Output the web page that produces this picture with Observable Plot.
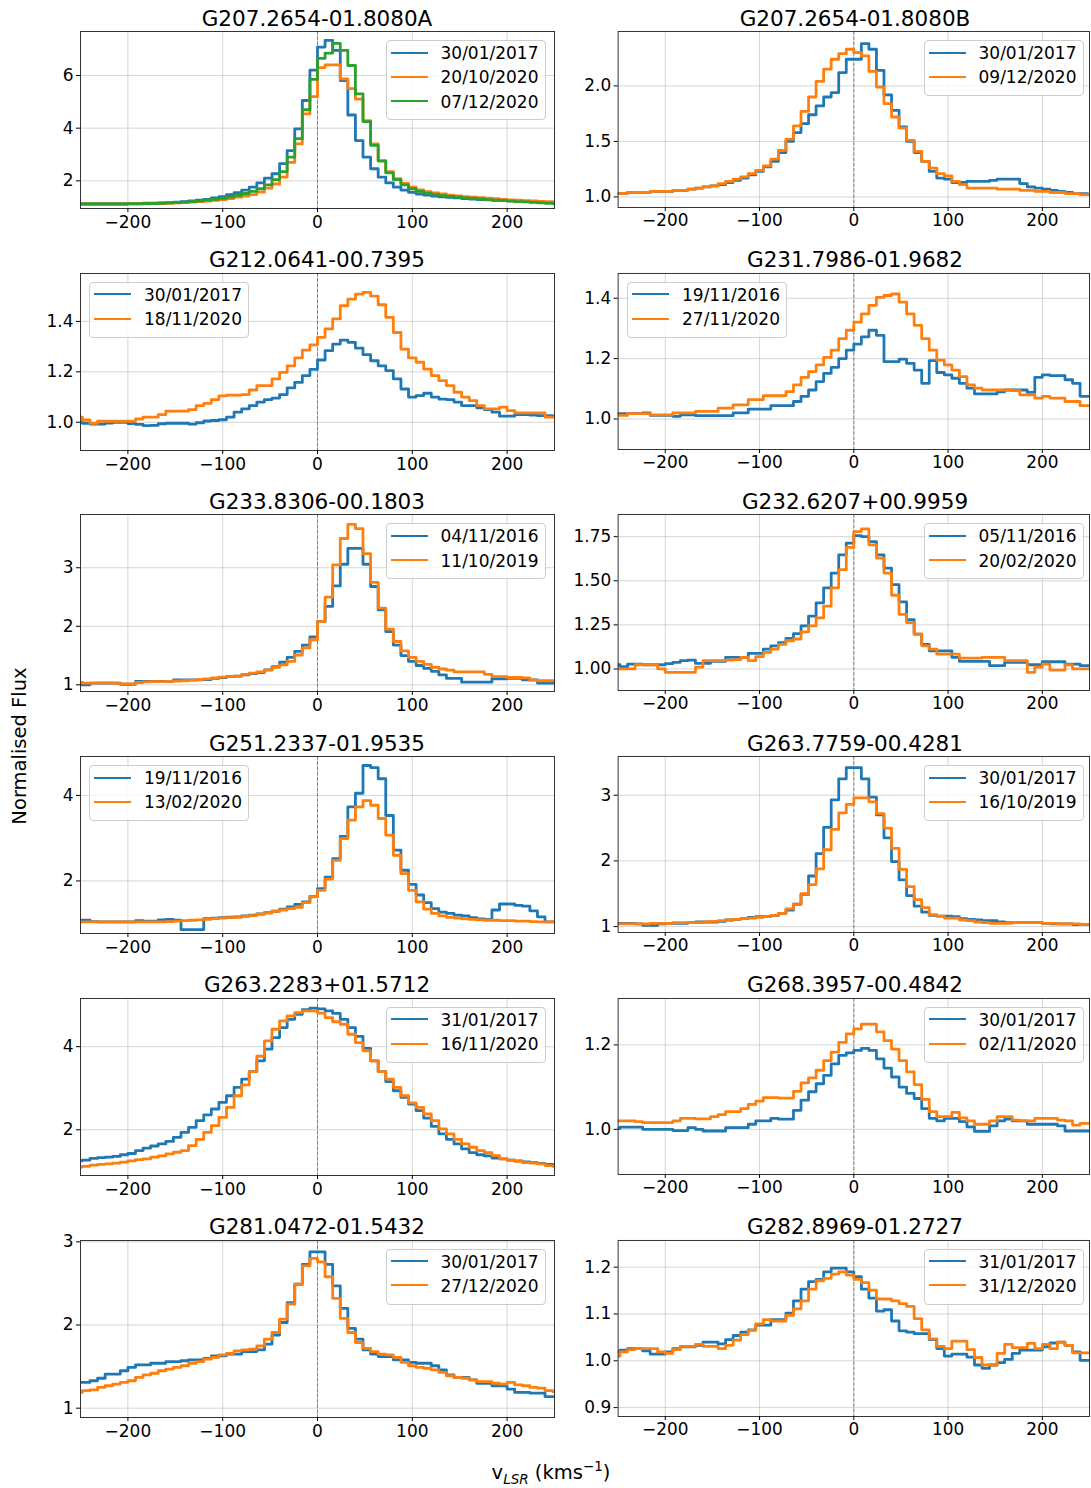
<!DOCTYPE html>
<html><head><meta charset="utf-8">
<script src="https://cdn.jsdelivr.net/npm/d3@7"></script>
<script src="https://cdn.jsdelivr.net/npm/@observablehq/plot@0.6"></script>
<style>
body{margin:0;background:#fff;}
#page{position:relative;width:1091px;height:1488px;overflow:hidden;background:#fff;font-family:"DejaVu Sans",sans-serif;color:#000;}
.title{position:absolute;width:474px;text-align:center;font-size:21.5px;line-height:24px;white-space:nowrap;}
.legend{position:absolute;width:160px;background:rgba(255,255,255,0.8);border:1px solid #cccccc;border-radius:4px;box-sizing:border-box;}
.lgline{position:absolute;height:0;border-top-style:solid;border-top-width:2.8px;width:37px;}
.lgtext{position:absolute;font-size:17px;line-height:20px;white-space:nowrap;}
.panel{position:absolute;}
.axlabel{position:absolute;font-size:19.5px;white-space:nowrap;text-align:center;}
</style></head>
<body><div id="page"></div>
<script>
// velocity bin centres (km/s)
const vel = [-252,-244,-236,-228,-220,-212,-204,-196,-188,-180,-172,-164,-156,-148,-140,-132,
-124,-116,-108,-100,-92,-84,-76,-68,-60,-52,-44,-36,-28,-20,-12,-4,
4,12,20,28,36,44,52,60,68,76,84,92,100,108,116,124,
132,140,148,156,164,172,180,188,196,204,212,220,228,236,244,252];
const xTicks = [-200,-100,0,100,200];

const titles = ["G207.2654-01.8080A","G207.2654-01.8080B","G212.0641-00.7395","G231.7986-01.9682",
"G233.8306-00.1803","G232.6207+00.9959","G251.2337-01.9535","G263.7759-00.4281",
"G263.2283+01.5712","G268.3957-00.4842","G281.0472-01.5432","G282.8969-01.2727"];

const dates = [["30/01/2017","20/10/2020","07/12/2020"],["30/01/2017","09/12/2020"],["30/01/2017","18/11/2020"],
["19/11/2016","27/11/2020"],["04/11/2016","11/10/2019"],["05/11/2016","20/02/2020"],["19/11/2016","13/02/2020"],
["30/01/2017","16/10/2019"],["31/01/2017","16/11/2020"],["30/01/2017","02/11/2020"],["30/01/2017","27/12/2020"],
["31/01/2017","31/12/2020"]];

const yTickValues = [[2,4,6],[1.0,1.5,2.0],[1.0,1.2,1.4],[1.0,1.2,1.4],[1,2,3],[1.0,1.25,1.5,1.75],[2,4],[1,2,3],[2,4],[1.0,1.2],[1,2,3],[0.9,1.0,1.1,1.2]];
const yTickLabels = [["2","4","6"],["1.0","1.5","2.0"],["1.0","1.2","1.4"],["1.0","1.2","1.4"],["1","2","3"],["1.00","1.25","1.50","1.75"],["2","4"],["1","2","3"],["2","4"],["1.0","1.2"],["1","2","3"],["0.9","1.0","1.1","1.2"]];

// ---- flux series ----
const p1a=[1.13,1.13,1.13,1.13,1.13,1.13,1.13,1.14, 1.14,1.15,1.15,1.16,1.17,1.19,1.21,1.24, 1.27,1.30,1.35,1.40,1.48,1.55,1.65,1.76, 1.92,2.10,2.27,2.65,3.15,3.97,5.05,6.20, 7.08,7.33,6.95,5.81,4.50,3.53,2.90,2.46, 2.14,1.92,1.76,1.65,1.56,1.50,1.46,1.42, 1.39,1.37,1.35,1.33,1.31,1.29,1.28,1.26, 1.25,1.24,1.22,1.21,1.20,1.18,1.17,1.16];
const p1b=[1.12,1.12,1.12,1.12,1.12,1.12,1.12,1.13, 1.13,1.13,1.14,1.14,1.15,1.16,1.17,1.19, 1.21,1.23,1.26,1.29,1.33,1.38,1.42,1.48, 1.57,1.72,1.88,2.14,2.70,3.40,4.54,5.20, 6.30,6.40,6.40,5.87,5.50,5.10,4.29,3.40, 2.77,2.35,2.08,1.90,1.76,1.66,1.59,1.54, 1.50,1.46,1.43,1.40,1.38,1.36,1.34,1.32, 1.30,1.28,1.27,1.25,1.24,1.22,1.21,1.20];
const p1c=[1.12,1.12,1.12,1.12,1.12,1.12,1.12,1.13, 1.13,1.14,1.14,1.15,1.16,1.17,1.19,1.21, 1.24,1.27,1.30,1.34,1.39,1.45,1.52,1.60, 1.70,1.85,2.05,2.35,2.90,3.60,4.70,5.85, 6.65,6.85,7.22,6.95,6.38,5.30,4.25,3.35, 2.75,2.30,2.05,1.85,1.70,1.60,1.53,1.48, 1.44,1.41,1.38,1.35,1.33,1.31,1.29,1.27, 1.25,1.23,1.21,1.20,1.18,1.16,1.15,1.14];

const p2a=[1.03,1.03,1.04,1.04,1.04,1.05,1.05,1.05, 1.06,1.06,1.07,1.08,1.09,1.10,1.11,1.13, 1.15,1.17,1.20,1.23,1.27,1.32,1.40,1.50, 1.58,1.66,1.74,1.82,1.90,1.94,2.12,2.24, 2.24,2.38,2.33,2.14,1.92,1.78,1.63,1.50, 1.40,1.32,1.23,1.17,1.16,1.13,1.13,1.14, 1.14,1.14,1.15,1.16,1.16,1.16,1.12,1.09, 1.08,1.07,1.06,1.05,1.04,1.03,1.03,1.02];
const p2b=[1.03,1.03,1.04,1.04,1.04,1.05,1.05,1.05, 1.06,1.06,1.07,1.08,1.09,1.10,1.12,1.14, 1.16,1.18,1.21,1.24,1.28,1.34,1.42,1.52, 1.64,1.77,1.90,2.04,2.15,2.24,2.29,2.33, 2.30,2.27,2.13,1.99,1.84,1.72,1.62,1.51, 1.41,1.32,1.26,1.21,1.19,1.14,1.11,1.08, 1.08,1.08,1.08,1.07,1.07,1.07,1.06,1.06, 1.05,1.05,1.04,1.04,1.03,1.03,1.02,1.02];

const p3a=[1.000,0.996,0.993,0.993,0.997,1.000,1.000,0.995, 0.992,0.987,0.988,0.994,0.996,0.996,0.996,0.993, 0.998,1.005,1.007,1.010,1.020,1.040,1.053,1.066, 1.080,1.090,1.096,1.110,1.136,1.158,1.185,1.210, 1.247,1.284,1.310,1.326,1.317,1.294,1.268,1.244, 1.224,1.205,1.172,1.132,1.100,1.106,1.115,1.100, 1.092,1.090,1.080,1.066,1.066,1.057,1.050,1.040, 1.024,1.024,1.030,1.030,1.028,1.026,1.026,1.022];
const p3b=[1.020,1.009,0.996,1.004,1.004,1.004,1.004,1.004, 1.013,1.020,1.020,1.030,1.044,1.044,1.044,1.050, 1.066,1.075,1.090,1.105,1.108,1.108,1.110,1.128, 1.145,1.145,1.172,1.198,1.224,1.255,1.286,1.307, 1.337,1.370,1.410,1.462,1.488,1.508,1.515,1.500, 1.466,1.416,1.356,1.290,1.255,1.238,1.211,1.185, 1.165,1.145,1.119,1.100,1.086,1.066,1.053,1.053, 1.060,1.046,1.037,1.037,1.037,1.037,1.020,1.020];

const p4a=[1.018,1.018,1.018,1.018,1.020,1.012,1.012,1.012, 1.009,1.014,1.014,1.011,1.011,1.011,1.011,1.011, 1.020,1.020,1.033,1.033,1.033,1.044,1.044,1.044, 1.058,1.075,1.096,1.124,1.151,1.171,1.200,1.228, 1.248,1.272,1.294,1.277,1.190,1.190,1.198,1.184, 1.162,1.118,1.193,1.154,1.146,1.135,1.118,1.102, 1.083,1.083,1.083,1.090,1.096,1.096,1.096,1.088, 1.138,1.146,1.144,1.144,1.130,1.118,1.075,1.075];
const p4b=[1.012,1.012,1.018,1.018,1.018,1.014,1.014,1.014, 1.020,1.020,1.020,1.025,1.025,1.025,1.036,1.036, 1.047,1.047,1.064,1.064,1.077,1.077,1.077,1.091, 1.113,1.138,1.157,1.179,1.204,1.228,1.266,1.294, 1.321,1.348,1.376,1.403,1.409,1.414,1.387,1.348, 1.310,1.266,1.228,1.195,1.179,1.162,1.140,1.113, 1.102,1.096,1.096,1.096,1.096,1.094,1.080,1.080, 1.069,1.075,1.069,1.069,1.058,1.058,1.044,1.044];

const p5a=[1.00,1.00,1.03,1.03,1.03,1.03,1.01,1.01, 1.057,1.057,1.057,1.057,1.06,1.085,1.085,1.085, 1.085,1.09,1.11,1.125,1.14,1.15,1.17,1.19, 1.21,1.255,1.31,1.386,1.47,1.57,1.68,1.82, 2.08,2.34,2.69,3.06,3.33,3.33,3.06,2.68, 2.28,1.91,1.68,1.50,1.40,1.33,1.28,1.23, 1.17,1.11,1.11,1.045,1.045,1.045,1.045,1.10, 1.10,1.11,1.11,1.085,1.085,1.03,1.03,1.03];
const p5b=[1.04,1.03,1.03,1.035,1.035,1.03,1.015,1.015, 1.04,1.05,1.055,1.055,1.06,1.065,1.07,1.08, 1.09,1.10,1.12,1.13,1.14,1.15,1.18,1.20, 1.22,1.25,1.30,1.34,1.40,1.51,1.63,1.77, 2.08,2.50,3.05,3.50,3.74,3.67,3.24,2.75, 2.31,1.95,1.74,1.58,1.47,1.40,1.35,1.30, 1.27,1.25,1.22,1.22,1.22,1.22,1.18,1.14, 1.14,1.125,1.125,1.12,1.08,1.07,1.07,1.07];

const p6a=[1.024,1.013,1.028,1.028,1.024,1.024,1.024,1.030, 1.038,1.047,1.050,1.032,1.032,1.043,1.043,1.066, 1.066,1.066,1.088,1.088,1.113,1.131,1.150,1.174, 1.200,1.244,1.300,1.375,1.460,1.544,1.647,1.713, 1.756,1.750,1.722,1.647,1.572,1.478,1.380,1.280, 1.197,1.140,1.103,1.103,1.103,1.066,1.043,1.043, 1.043,1.043,1.019,1.019,1.038,1.038,1.038,1.024, 1.024,1.041,1.041,1.041,1.028,1.028,1.019,1.019];
const p6b=[1.000,1.000,1.000,1.024,1.024,1.024,1.000,0.981, 0.981,0.981,0.981,1.010,1.047,1.047,1.047,1.050, 1.053,1.066,1.047,1.070,1.094,1.113,1.140,1.160, 1.170,1.210,1.244,1.290,1.356,1.460,1.563,1.689, 1.779,1.794,1.704,1.628,1.544,1.418,1.310,1.263, 1.197,1.131,1.113,1.084,1.084,1.084,1.062,1.062, 1.062,1.066,1.066,1.066,1.047,1.047,1.047,0.981, 1.010,1.028,0.994,0.994,1.024,1.000,1.000,1.000];

const p7a=[1.08,1.08,1.05,1.04,1.04,1.04,1.04,1.04, 1.07,1.06,1.06,1.09,1.10,1.08,0.86,0.86, 0.86,1.12,1.13,1.14,1.15,1.16,1.18,1.20, 1.23,1.26,1.29,1.34,1.39,1.45,1.51,1.64, 1.82,2.09,2.52,3.04,3.73,4.05,4.70,4.65, 4.39,3.53,2.72,2.25,1.92,1.67,1.49,1.35, 1.27,1.24,1.20,1.18,1.14,1.11,1.10,1.32, 1.46,1.46,1.43,1.41,1.30,1.16,1.04,1.04];
const p7b=[1.04,1.04,1.04,1.04,1.04,1.04,1.04,1.04, 1.04,1.04,1.04,1.04,1.05,1.06,1.07,1.08, 1.09,1.10,1.12,1.13,1.14,1.15,1.17,1.19, 1.22,1.25,1.29,1.32,1.35,1.38,1.49,1.63, 1.78,2.04,2.48,2.99,3.42,3.73,3.88,3.77, 3.46,3.07,2.60,2.17,1.78,1.51,1.34,1.24, 1.18,1.15,1.13,1.11,1.10,1.09,1.08,1.08, 1.07,1.07,1.06,1.06,1.05,1.04,1.04,1.04];

const p8a=[1.05,1.05,1.05,1.04,1.02,1.02,1.04,1.05, 1.05,1.05,1.06,1.07,1.07,1.07,1.08,1.10, 1.11,1.12,1.14,1.15,1.15,1.17,1.20,1.25, 1.34,1.49,1.77,2.11,2.51,2.93,3.25,3.42, 3.42,3.25,2.97,2.70,2.35,1.99,1.71,1.47, 1.31,1.22,1.17,1.16,1.16,1.15,1.12,1.11, 1.10,1.09,1.09,1.07,1.06,1.06,1.06,1.06, 1.06,1.05,1.04,1.04,1.04,1.03,1.03,1.03];
const p8b=[1.04,1.04,1.04,1.04,1.04,1.05,1.05,1.05, 1.06,1.06,1.06,1.06,1.07,1.08,1.09,1.10, 1.11,1.12,1.13,1.14,1.15,1.17,1.20,1.27, 1.34,1.50,1.64,1.88,2.17,2.48,2.73,2.86, 2.96,2.96,2.90,2.72,2.50,2.19,1.87,1.61, 1.41,1.29,1.18,1.16,1.13,1.13,1.10,1.09, 1.07,1.06,1.05,1.05,1.05,1.06,1.06,1.06, 1.06,1.05,1.05,1.04,1.04,1.04,1.03,1.03];

const p9a=[1.25,1.27,1.31,1.33,1.34,1.36,1.40,1.43, 1.50,1.56,1.61,1.66,1.72,1.82,1.94,2.06, 2.22,2.36,2.50,2.66,2.82,3.02,3.22,3.40, 3.66,3.94,4.22,4.46,4.66,4.78,4.89,4.93, 4.91,4.86,4.80,4.66,4.46,4.25,3.96,3.66, 3.40,3.16,2.94,2.78,2.62,2.46,2.28,2.08, 1.90,1.77,1.66,1.54,1.45,1.40,1.37,1.32, 1.30,1.27,1.25,1.23,1.21,1.19,1.17,1.16];
const p9b=[1.10,1.12,1.15,1.17,1.18,1.20,1.22,1.25, 1.28,1.30,1.34,1.37,1.42,1.46,1.50,1.62, 1.77,1.94,2.10,2.30,2.54,2.82,3.08,3.40, 3.77,4.14,4.42,4.62,4.74,4.82,4.86,4.86, 4.81,4.70,4.60,4.54,4.30,4.10,3.90,3.66, 3.40,3.22,3.02,2.82,2.65,2.54,2.38,2.22, 2.02,1.90,1.77,1.66,1.58,1.50,1.45,1.38, 1.30,1.27,1.24,1.21,1.20,1.18,1.14,1.12];

const p10a=[1.002,1.005,1.005,1.005,1.000,1.000,1.000,1.000, 0.997,0.997,1.004,1.000,0.996,0.996,0.996,1.004, 1.004,1.004,1.012,1.020,1.020,1.026,1.024,1.024, 1.045,1.069,1.089,1.108,1.128,1.155,1.175,1.181, 1.187,1.192,1.187,1.167,1.145,1.124,1.100,1.085, 1.073,1.049,1.026,1.020,1.026,1.026,1.018,1.006, 0.995,0.995,1.008,1.020,1.024,1.020,1.020,1.012, 1.012,1.012,1.012,1.008,0.996,0.996,0.996,0.996];
const p10b=[1.020,1.020,1.020,1.018,1.016,1.016,1.016,1.016, 1.020,1.026,1.026,1.025,1.025,1.030,1.035,1.042, 1.042,1.049,1.059,1.067,1.075,1.075,1.074,1.074, 1.090,1.110,1.122,1.140,1.163,1.183,1.206,1.226, 1.238,1.249,1.249,1.231,1.210,1.190,1.163,1.136, 1.106,1.071,1.042,1.030,1.030,1.040,1.027,1.020, 1.012,1.012,1.020,1.030,1.030,1.022,1.020,1.020, 1.026,1.026,1.026,1.022,1.020,1.010,1.014,1.014];

const p11a=[1.31,1.31,1.33,1.36,1.41,1.41,1.45,1.49, 1.52,1.52,1.54,1.54,1.56,1.56,1.57,1.58, 1.58,1.60,1.63,1.63,1.65,1.65,1.68,1.68, 1.70,1.77,1.88,2.03,2.27,2.49,2.73,2.88, 2.88,2.73,2.47,2.20,1.96,1.83,1.70,1.65, 1.62,1.62,1.58,1.58,1.55,1.54,1.54,1.51, 1.46,1.40,1.37,1.37,1.34,1.30,1.30,1.27, 1.27,1.23,1.19,1.19,1.18,1.18,1.14,1.14];
const p11b=[1.19,1.21,1.22,1.25,1.27,1.29,1.31,1.33, 1.37,1.40,1.42,1.45,1.47,1.49,1.51,1.54, 1.56,1.59,1.61,1.64,1.66,1.69,1.70,1.71, 1.75,1.83,1.91,2.07,2.25,2.49,2.71,2.80, 2.76,2.58,2.32,2.08,1.91,1.79,1.72,1.68, 1.65,1.64,1.61,1.55,1.51,1.49,1.48,1.46, 1.43,1.39,1.37,1.36,1.34,1.32,1.32,1.30, 1.29,1.31,1.28,1.27,1.25,1.24,1.21,1.20];

const p12a=[1.019,1.023,1.026,1.026,1.021,1.014,1.014,1.019, 1.026,1.030,1.030,1.033,1.040,1.040,1.036,1.045, 1.054,1.061,1.066,1.076,1.076,1.088,1.088,1.102, 1.128,1.153,1.169,1.174,1.190,1.198,1.198,1.190, 1.180,1.153,1.134,1.106,1.109,1.085,1.064,1.061, 1.058,1.058,1.045,1.026,1.010,1.014,1.014,1.008, 0.991,0.984,0.991,0.996,1.003,1.016,1.023,1.023, 1.023,1.030,1.038,1.040,1.033,1.019,1.001,1.001];
const p12b=[1.010,1.019,1.024,1.026,1.026,1.026,1.019,1.016, 1.024,1.031,1.031,1.035,1.031,1.031,1.026,1.033, 1.044,1.056,1.065,1.079,1.088,1.085,1.085,1.097, 1.111,1.128,1.153,1.171,1.176,1.185,1.190,1.183, 1.174,1.167,1.151,1.132,1.132,1.128,1.122,1.116, 1.090,1.066,1.047,1.031,1.026,1.042,1.042,1.024, 1.007,0.991,0.991,1.016,1.035,1.028,1.028,1.037, 1.026,1.035,1.026,1.040,1.033,1.017,1.017,1.017];

const fluxes = [[p1a,p1b,p1c],[p2a,p2b],[p3a,p3b],[p4a,p4b],[p5a,p5b],[p6a,p6b],[p7a,p7b],[p8a,p8b],[p9a,p9b],[p10a,p10b],[p11a,p11b],[p12a,p12b]];

// ---- layout / style ----
const colors = ["#1f77b4","#ff7f0e","#2ca02c"];
const yDomains = [[0.95,7.67],[0.905,2.49],[0.888,1.59],[0.899,1.482],[0.886,3.91],[0.878,1.876],[0.77,4.91],[0.91,3.59],[0.9,5.16],[0.893,1.31],[0.888,3.016],[0.881,1.257]];
const legendLeft = [false,false,true,true,false,false,true,false,false,false,false,false];
const colX = [80, 618];
const rowY = [31, 272.7, 514.4, 756.1, 997.8, 1239.5];
const PW = 474, PH = 177, ML = 70, MR = 2, MT = 4, MB = 36;

const page = document.getElementById("page");

titles.forEach((title, i) => {
  const fx = colX[i % 2], fy = rowY[Math.floor(i / 2)];
  const series = fluxes[i];
  const tickMap = new Map(yTickValues[i].map((v, k) => [v, yTickLabels[i][k]]));
  const marks = [
    Plot.gridX({ticks: xTicks, stroke: "#b0b0b0", strokeOpacity: 0.6, strokeWidth: 0.9}),
    Plot.gridY({ticks: yTickValues[i], stroke: "#b0b0b0", strokeOpacity: 0.6, strokeWidth: 0.9}),
    Plot.ruleX([0], {stroke: "#808080", strokeDasharray: "3.7,1.6", strokeWidth: 1})
  ];
  series.forEach((vals, k) => {
    marks.push(Plot.line(vals, {x: (d, j) => vel[j], y: d => d, stroke: colors[k], strokeWidth: 2.8, curve: "step", clip: true}));
  });
  marks.push(Plot.frame({stroke: "#333", strokeWidth: 1}));
  marks.push(Plot.axisX({ticks: xTicks, tickFormat: d3.format("d"), tickSize: 4, tickPadding: 3, label: null}));
  marks.push(Plot.axisY({ticks: yTickValues[i], tickFormat: d => tickMap.get(d), tickSize: 4, tickPadding: 3, label: null}));

  const chart = Plot.plot({
    width: ML + PW + MR, height: MT + PH + MB,
    marginLeft: ML, marginRight: MR, marginTop: MT, marginBottom: MB,
    x: {domain: [-250, 250]},
    y: {domain: yDomains[i]},
    style: {fontFamily: "DejaVu Sans", fontSize: "17px", color: "#000", background: "transparent", overflow: "visible"},
    marks
  });
  const wrap = document.createElement("div");
  wrap.className = "panel";
  wrap.style.left = (fx - ML) + "px";
  wrap.style.top = (fy - MT) + "px";
  wrap.appendChild(chart);
  page.appendChild(wrap);

  const t = document.createElement("div");
  t.className = "title";
  t.textContent = title;
  t.style.left = fx + "px";
  t.style.top = (fy - 24.5) + "px";
  page.appendChild(t);

  // legend
  const n = series.length;
  const lg = document.createElement("div");
  lg.className = "legend";
  const bx = legendLeft[i] ? fx + 9 : fx + PW - 8.5 - 160;
  lg.style.left = bx + "px";
  lg.style.top = (fy + 9) + "px";
  lg.style.height = (4 + n * 24.3 + 3.5) + "px";
  dates[i].forEach((d, k) => {
    const cy = 12.5 + 24.3 * k;
    const ln = document.createElement("div");
    ln.className = "lgline";
    ln.style.borderTopColor = colors[k];
    ln.style.left = "4px";
    ln.style.top = (cy - 1.9) + "px";
    lg.appendChild(ln);
    const tx = document.createElement("div");
    tx.className = "lgtext";
    tx.textContent = d;
    tx.style.left = "54px";
    tx.style.top = (cy - 10.5) + "px";
    lg.appendChild(tx);
  });
  page.appendChild(lg);
});

const yl = document.createElement("div");
yl.className = "axlabel";
yl.textContent = "Normalised Flux";
yl.style.width = "200px";
yl.style.left = (20 - 100) + "px";
yl.style.top = (746 - 12) + "px";
yl.style.lineHeight = "24px";
yl.style.transform = "rotate(-90deg)";
page.appendChild(yl);

const xl = document.createElement("div");
xl.className = "axlabel";
xl.innerHTML = 'v<span style="position:relative;top:5px;font-style:italic;font-size:13.5px;">LSR</span> (kms<span style="position:relative;top:-8px;font-size:13.5px;">\u22121</span>)';
xl.style.width = "300px";
xl.style.left = (551 - 150) + "px";
xl.style.top = "1461px";
xl.style.height = "24px";
xl.style.lineHeight = "24px";
page.appendChild(xl);
</script></body></html>
